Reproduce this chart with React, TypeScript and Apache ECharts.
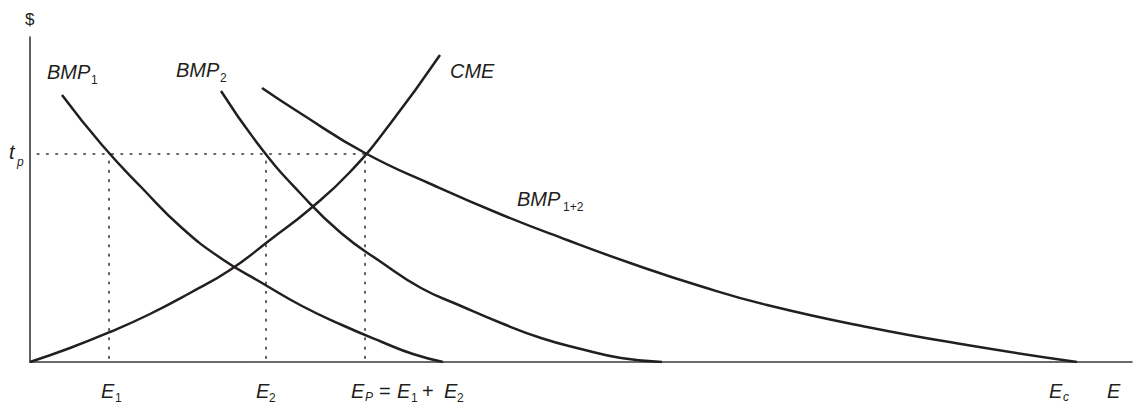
import React, { useEffect, useRef } from "react";
import * as echarts from "echarts";

// Data (x = quantity E, y = $)
const X_MAX = 1102;
const Y_MAX = 325;
const TP = 208; // t_p
const E1 = 79;
const E2 = 236;
const EP = 335;

const BMP1 = [[32, 267], [72, 217], [112, 174], [152, 134], [192, 103], [232, 79], [272, 56], [312, 37], [352, 20], [383, 8], [413, 0]];
const BMP2 = [[191, 271], [231, 214], [271, 168], [311, 129], [351, 100], [391, 74], [431, 56], [471, 39], [511, 24], [551, 13], [591, 4], [632, 0]];
const BMP12 = [[232, 274], [270, 249], [335, 209], [403, 177], [470, 148], [537, 122], [603, 98], [670, 76], [737, 57], [837, 35], [937, 17], [1047, 0]];
const CME = [[0, 0], [40, 14], [80, 30], [120, 48], [160, 69], [200, 92], [240, 122], [280, 153], [320, 190], [360, 238], [410, 307]];

const FONT = "'Liberation Sans', Arial, Helvetica, sans-serif";
const INK = "#231f20";

function txt(text: string, x: number, y: number, size: number, italic: boolean) {
  return {
    type: "text",
    x,
    y,
    style: {
      text,
      fontSize: size,
      fontFamily: FONT,
      fontStyle: italic ? "italic" : "normal",
      fill: INK,
      align: "left",
      verticalAlign: "middle",
    },
  };
}

export default function App() {
  const ref = useRef<HTMLDivElement>(null);
  useEffect(() => {
    if (!ref.current) return;
    const chart = echarts.init(ref.current, null, { renderer: "svg" });
    const curve = (data: number[][]) => ({
      type: "line",
      data,
      smooth: 0.5,
      symbol: "none",
      lineStyle: { color: INK, width: 2.5 },
      silent: true,
    });
    const dotted = (data: number[][]) => ({
      type: "line",
      data,
      symbol: "none",
      lineStyle: { color: "#333", width: 1.6, type: [1.6, 7.7], dashOffset: 1.6, cap: "round" },
      silent: true,
    });
    chart.setOption({
      animation: false,
      grid: { left: 30, right: 5, top: 37, bottom: 43 },
      xAxis: {
        type: "value",
        min: 0,
        max: X_MAX,
        axisLine: { show: true, lineStyle: { color: "#3a3a3a", width: 1.6 } },
        axisTick: { show: false },
        axisLabel: { show: false },
        splitLine: { show: false },
      },
      yAxis: {
        type: "value",
        min: 0,
        max: Y_MAX,
        axisLine: { show: true, lineStyle: { color: "#3a3a3a", width: 1.6 } },
        axisTick: { show: false },
        axisLabel: { show: false },
        splitLine: { show: false },
      },
      series: [
        dotted([[0, TP], [EP, TP]]),
        dotted([[E1, TP], [E1, 0]]),
        dotted([[E2, TP], [E2, 0]]),
        dotted([[EP, TP], [EP, 0]]),
        curve(BMP1),
        curve(BMP2),
        curve(BMP12),
        curve(CME),
      ],
      graphic: [
        txt("$", 25, 19, 17, false),
        txt("BMP", 47, 72, 20, true),
        txt("1", 91, 80, 12, false),
        txt("BMP", 176, 70, 20, true),
        txt("2", 220, 78, 12, false),
        txt("CME", 450, 71, 20, true),
        txt("BMP", 517, 199, 20, true),
        txt("1+2", 563, 207, 12, false),
        txt("t", 9, 152, 20, true),
        txt("p", 17, 162, 12, true),
        txt("E", 101, 391, 20, true),
        txt("1", 115, 398, 12, false),
        txt("E", 256, 391, 20, true),
        txt("2", 269, 398, 12, false),
        txt("E", 351, 391, 20, true),
        txt("P", 365, 397, 12, true),
        txt("=", 379, 391, 20, false),
        txt("E", 397, 391, 20, true),
        txt("1", 411, 398, 12, false),
        txt("+", 422, 391, 20, false),
        txt("E", 444, 391, 20, true),
        txt("2", 457, 398, 12, false),
        txt("E", 1049, 391, 20, true),
        txt("c", 1063, 397, 12, true),
        txt("E", 1107, 391, 20, true),
      ],
    });
    return () => chart.dispose();
  }, []);
  return (
    <div
      ref={ref}
      style={{ position: "fixed", left: 0, top: 0, width: 1137, height: 405, background: "#fff" }}
    />
  );
}
